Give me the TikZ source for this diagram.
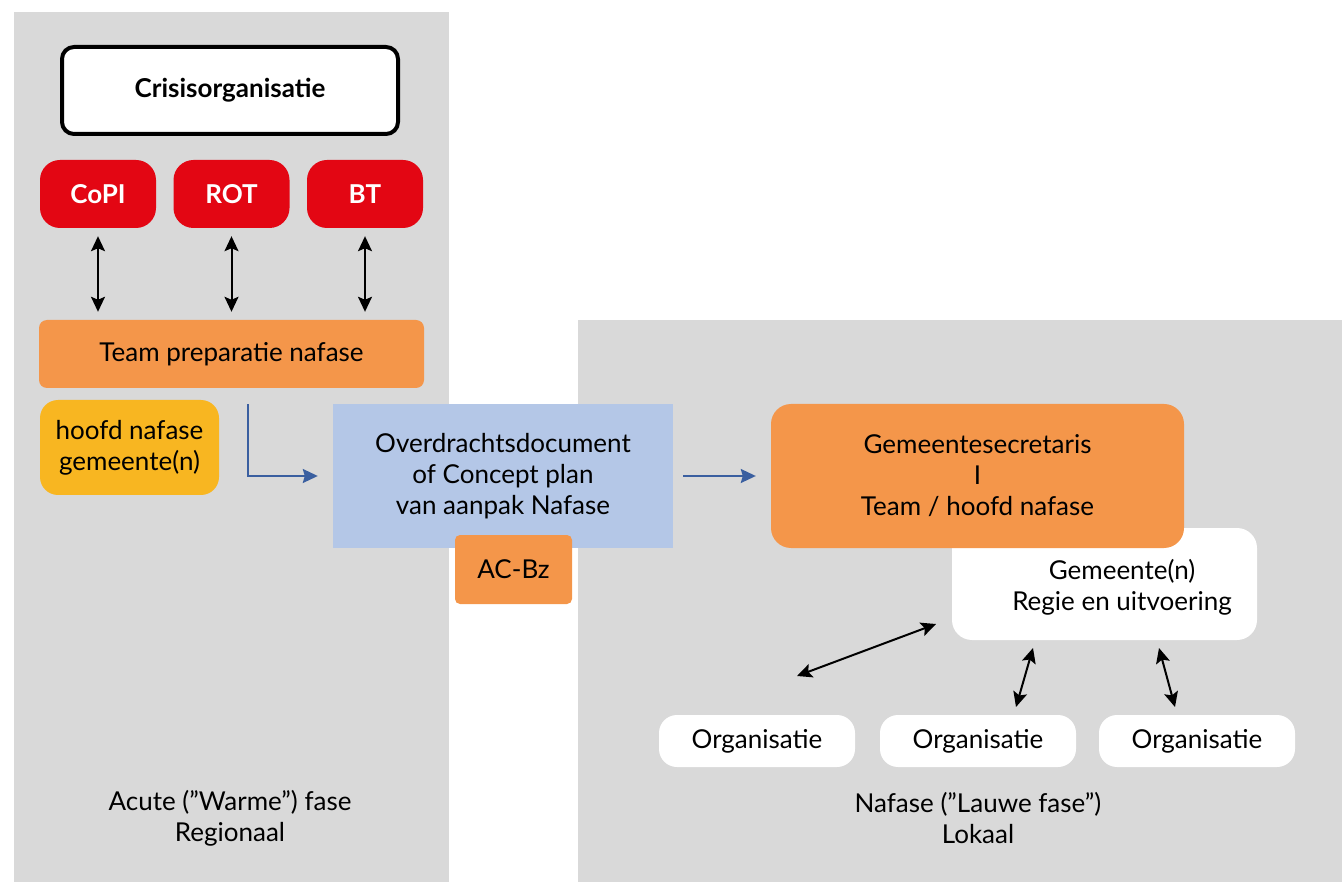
\documentclass[tikz,border=0pt]{standalone}
\usepackage{fontspec}
\setmainfont{Lato}
\usetikzlibrary{arrows.meta}
\definecolor{panelgray}{HTML}{D9D9D9}
\definecolor{crisred}{HTML}{E30613}
\definecolor{orng}{HTML}{F4964A}
\definecolor{gold}{HTML}{F8B621}
\definecolor{lblue}{HTML}{B4C7E7}
\definecolor{arrblue}{HTML}{3A5FA0}
\tikzset{
  box/.style={inner sep=0pt, align=center, font=\fontsize{26}{31}\selectfont},
  crisbox/.style={box, draw=black, line width=4pt, fill=white, rounded corners=12pt,
    font=\fontsize{26}{30}\selectfont\bfseries},
  redbox/.style={box, fill=crisred, rounded corners=20pt, text=white,
    minimum width=116pt, minimum height=68pt, font=\fontsize{26}{30}\selectfont\bfseries},
  orbox/.style={box, fill=orng},
  whitebox/.style={box, fill=white, rounded corners=18pt},
  plain/.style={box},
  dbl/.style={{Stealth[length=15pt,width=14pt,inset=3pt]}-{Stealth[length=15pt,width=14pt,inset=3pt]}, line width=2pt, black},
  bluearrow/.style={-{Stealth[length=15pt,width=14pt,inset=2pt]}, line width=1.8pt, arrblue}
}
\begin{document}
\begin{tikzpicture}[x=1pt,y=-1pt]
\useasboundingbox (0,0) rectangle (1342,882);
% panels
\fill[panelgray] (14,12) rectangle (449,882);
\fill[panelgray] (578,320) rectangle (1342,882);

% left side
\node[crisbox, minimum width=336pt, minimum height=87pt] (crisis) at (230,90.5) {Crisisorganisatie};
\node[redbox] (copi) at (98,194) {CoPI};
\node[redbox] (rot) at (231.5,194) {ROT};
\node[redbox] (bt) at (365,194) {BT};
\node[orbox, rounded corners=8pt, minimum width=385pt, minimum height=68pt] (team) at (231.5,354) {Team preparatie nafase};
\node[box, fill=gold, rounded corners=18pt, minimum width=179pt, minimum height=95pt] (hoofd) at (129.5,447.5) {hoofd nafase\\gemeente(n)};

\draw[dbl, shorten <=8pt, shorten >=8pt] (copi.south) -- (copi.south |- team.north);
\draw[dbl, shorten <=8pt, shorten >=8pt] (rot.south) -- (rot.south |- team.north);
\draw[dbl, shorten <=8pt, shorten >=8pt] (bt.south) -- (bt.south |- team.north);

% middle
\node[box, fill=lblue, minimum width=340pt, minimum height=144pt] (doc) at (503,476) {Overdrachtsdocument\\of Concept plan\\van aanpak Nafase};
\node[orbox, rounded corners=5pt, minimum width=117pt, minimum height=69pt] (acbz) at (513.5,569.5) {AC-Bz};

\coordinate (elb) at (248,477);
\draw[bluearrow, shorten <=16pt, shorten >=15pt] (team.south -| elb) |- (doc.west);

% right side
\fill[white, rounded corners=20pt] (952,528) rectangle (1257,640);
\node[plain] (gem) at (1122,587.5) {Gemeente(n)\\Regie en uitvoering};
\node[orbox, rounded corners=20pt, minimum width=413pt, minimum height=144pt] (gemsec) at (977.5,476) {Gemeentesecretaris\\I\\Team / hoofd nafase};
\draw[bluearrow, shorten <=10pt, shorten >=15pt] (doc.east) -- (gemsec.west);

\node[whitebox, minimum width=196pt, minimum height=52pt] (org1) at (757,741) {Organisatie};
\node[whitebox, minimum width=196pt, minimum height=52pt] (org2) at (978,741) {Organisatie};
\node[whitebox, minimum width=196pt, minimum height=52pt] (org3) at (1197,741) {Organisatie};

\coordinate (a1) at (797,676);
\coordinate (b1) at (936,624);
\coordinate (a2) at (1016,707);
\coordinate (b2) at (1033,648);
\coordinate (a3) at (1175,707);
\coordinate (b3) at (1159,648);
\draw[dbl] (a1) -- (b1);
\draw[dbl] (a2) -- (b2);
\draw[dbl] (a3) -- (b3);

% bottom labels
\node[plain] (acute) at (230,818.5) {Acute (”Warme”) fase\\Regionaal};
\node[plain] (nafase) at (978,818.5) {Nafase (”Lauwe fase”)\\Lokaal};
\end{tikzpicture}
\end{document}
